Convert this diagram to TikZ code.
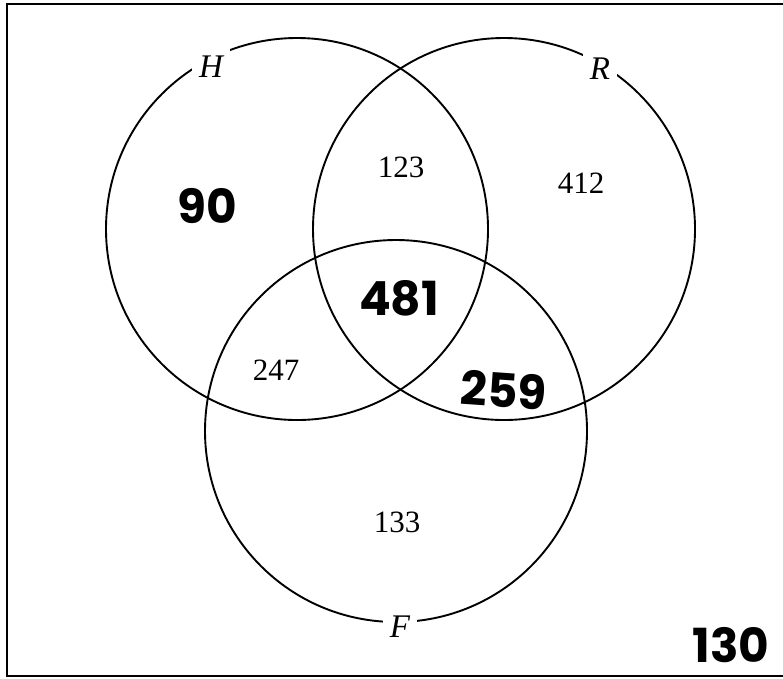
\documentclass[tikz,border=0pt]{standalone}
\usepackage{fontspec}
\setmainfont{Liberation Serif}
\newfontfamily\handfont{Poppins}
\usepackage{tikz}

\tikzset{
    set/.style={circle,draw,line width=1.9pt,minimum size=382pt,inner sep=0pt},
    setname/.style={fill=white,inner sep=7pt,font=\fontsize{33}{33}\selectfont\itshape},
    count/.style={font=\fontsize{31}{31}\selectfont},
    hand/.style={inner sep=1pt,font=\handfont\bfseries\fontsize{47}{47}\selectfont}
}

\begin{document}
\begin{tikzpicture}[x=1pt,y=-1pt]
        \useasboundingbox (0,0) rectangle (783,678);
        \draw[line width=2.6pt] (7,4) rectangle (795,676); % Univers
        \node[set] (H) at (297,229) {};
        \node[set] (R) at (504,229) {};
        \node[set] (F) at (396,431) {};
        \node[setname] (Hname) at (211,67) {H};
        \node[setname] (Rname) at (600,69) {R};
        \node[setname] (Fname) at (400,627) {F};
        \node[count] (HR) at (401,167) {123};
        \node[count] (Ronly) at (581,183) {412};
        \node[count] (HF) at (276,370) {247};
        \node[count] (Fonly) at (397,522) {133};
        \node[hand] (Honly) at (207,206) {90};
        \node[hand] (HRF) at (399,298) {481};
        \node[hand,rotate=-4] (RF) at (504,390) {259};
        \node[hand] (none) at (731,645) {130};
    \end{tikzpicture}
\end{document}
